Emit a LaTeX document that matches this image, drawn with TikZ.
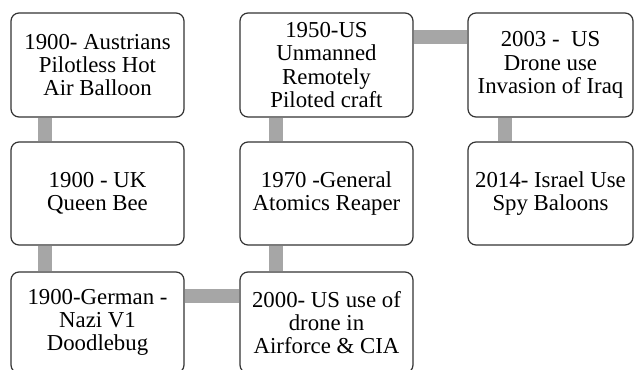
\documentclass[tikz,border=0pt]{standalone}
\usepackage{fontspec}
\setmainfont{Liberation Serif}
\newfontfamily\boxfont{Liberation Serif}
\usetikzlibrary{backgrounds}
\definecolor{conngray}{HTML}{A6A6A6}
\definecolor{boxline}{HTML}{333333}
\tikzset{
  tbox/.style={draw=boxline, line width=1.2bp, rounded corners=8bp, fill=white,
    minimum width=173bp, minimum height=104bp, inner sep=0pt, align=center,
    font=\boxfont\fontsize{22.8bp}{23.3bp}\selectfont},
  conn/.style={draw=conngray, line width=14.5bp}
}
\begin{document}
\begin{tikzpicture}[x=1bp,y=1bp]
\useasboundingbox (0,0) rectangle (634,369);
\clip (0,0) rectangle (634,369);
\node[tbox] (b1) at (97.5,304) {1900- Austrians\\Pilotless Hot\\Air Balloon};
\node[tbox] (b2) at (326.5,304) {1950-US\\Unmanned\\Remotely\\Piloted craft};
\node[tbox, minimum width=165bp] (b3) at (550.5,304) {2003 -\ \ US\\Drone use\\Invasion of Iraq};
\node[tbox, minimum height=103bp] (b4) at (97.5,175.5) {1900 - UK\\Queen Bee};
\node[tbox, minimum height=103bp] (b5) at (326.5,175.5) {1970 -General\\Atomics Reaper};
\node[tbox, minimum width=165bp, minimum height=103bp] (b6) at (550.5,175.5) {2014- Israel Use\\Spy Baloons};
\node[tbox, minimum height=101bp] (b7) at (97.5,46.5) {1900-German -\\Nazi V1\\Doodlebug};
\node[tbox, minimum height=101bp] (b8) at (326.5,46.5) {2000- US use of\\drone in\\Airforce \& CIA};
\begin{scope}[on background layer]
\draw[conn] ([xshift=-52.5bp]b1.south) -- ([xshift=-52.5bp]b4.north);
\draw[conn] ([xshift=-52.5bp]b4.south) -- ([xshift=-52.5bp]b7.north);
\draw[conn] ([yshift=26.5bp]b7.east) -- ([yshift=26.5bp]b8.west);
\draw[conn] ([xshift=-50.5bp]b8.north) -- ([xshift=-50.5bp]b5.south);
\draw[conn] ([xshift=-50.5bp]b5.north) -- ([xshift=-50.5bp]b2.south);
\draw[conn] ([yshift=28bp]b2.east) -- ([yshift=28bp]b3.west);
\draw[conn] ([xshift=-45.5bp]b3.south) -- ([xshift=-45.5bp]b6.north);
\end{scope}
\end{tikzpicture}
\end{document}
